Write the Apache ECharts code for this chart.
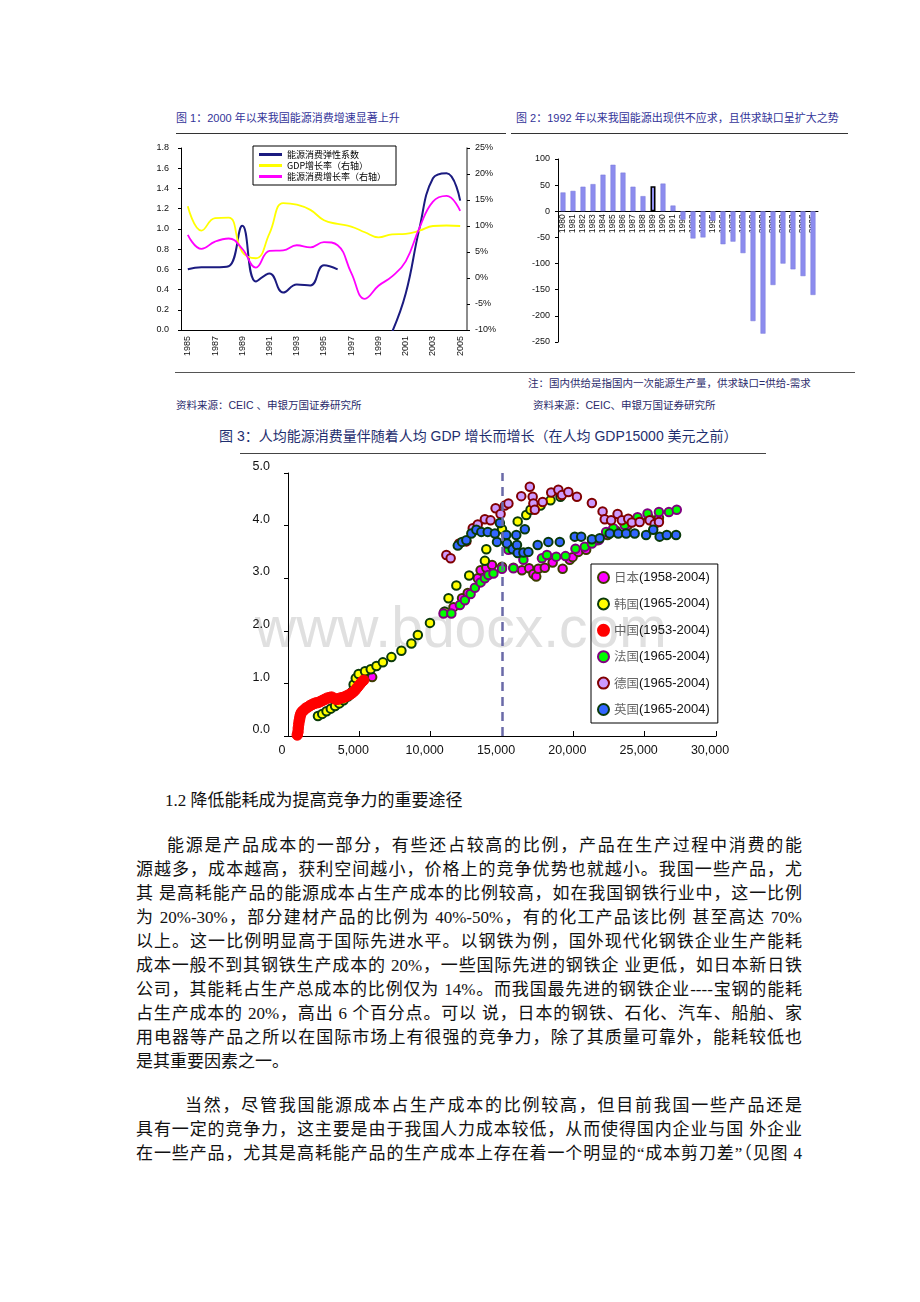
<!DOCTYPE html>
<html><head><meta charset="utf-8">
<script src="https://cdn.jsdelivr.net/npm/echarts/dist/echarts.min.js"></script>
<style>
html,body{margin:0;padding:0;background:#fff;}
body{width:920px;height:1302px;position:relative;overflow:hidden;}
.t{position:absolute;white-space:nowrap;font-family:"Liberation Sans","Noto Sans CJK SC",sans-serif;}
.cap{font-size:11px;line-height:14px;height:14px;color:#333399;}
.src{font-size:10.5px;line-height:14px;height:14px;color:#2b2b6b;}
.rule{position:absolute;height:1px;background:#333;}
.p{position:absolute;left:136px;width:666px;font-family:"Liberation Serif","Noto Sans CJK SC",serif;font-size:17px;line-height:24px;height:24px;color:#111;text-align:justify;text-align-last:justify;white-space:nowrap;}
.p.last{text-align-last:left;}
.ch{position:absolute;}
</style>
</head><body>

<div class="t cap" style="left:176px;top:111px;">图 1：2000 年以来我国能源消费增速显著上升</div>
<div class="t cap" style="left:516px;top:111px;">图 2：1992 年以来我国能源出现供不应求，且供求缺口呈扩大之势</div>
<div class="rule" style="left:176px;top:133px;width:330px;"></div>
<div class="rule" style="left:511px;top:133px;width:337px;"></div>

<div id="c1" class="ch" style="left:140px;top:140px;width:370px;height:232px;"></div>
<div id="c2" class="ch" style="left:510px;top:140px;width:360px;height:225px;"></div>

<div class="rule" style="left:175px;top:372px;width:680px;background:#555;"></div>
<div class="t src" style="left:528px;top:376px;">注：国内供给是指国内一次能源生产量，供求缺口=供给-需求</div>
<div class="t src" style="left:176px;top:398px;">资料来源：CEIC 、申银万国证券研究所</div>
<div class="t src" style="left:533px;top:398px;">资料来源：CEIC、申银万国证券研究所</div>

<div class="t" style="left:219px;top:427px;font-size:14px;line-height:18px;color:#1f2f6f;">图 3：人均能源消费量伴随着人均 GDP 增长而增长（在人均 GDP15000 美元之前）</div>
<div class="rule" style="left:240px;top:453px;width:526px;background:#444;"></div>

<div id="c3" class="ch" style="left:230px;top:455px;width:560px;height:320px;"></div>

<div class="t" style="left:165px;top:789px;font-family:'Liberation Serif','Noto Sans CJK SC',serif;font-size:17px;line-height:24px;color:#111;">1.2 降低能耗成为提高竞争力的重要途径</div>

<div class="p" style="left:167px;width:635px;top:834px;">能源是产品成本的一部分，有些还占较高的比例，产品在生产过程中消费的能</div>
<div class="p" style="top:858px;">源越多，成本越高，获利空间越小，价格上的竞争优势也就越小。我国一些产品，尤</div>
<div class="p" style="top:882px;">其 是高耗能产品的能源成本占生产成本的比例较高，如在我国钢铁行业中，这一比例</div>
<div class="p" style="top:906px;">为 20%-30%，部分建材产品的比例为 40%-50%，有的化工产品该比例 甚至高达 70%</div>
<div class="p" style="top:930px;">以上。这一比例明显高于国际先进水平。以钢铁为例，国外现代化钢铁企业生产能耗</div>
<div class="p" style="top:954px;">成本一般不到其钢铁生产成本的 20%，一些国际先进的钢铁企 业更低，如日本新日铁</div>
<div class="p" style="top:978px;">公司，其能耗占生产总成本的比例仅为 14%。而我国最先进的钢铁企业----宝钢的能耗</div>
<div class="p" style="top:1002px;">占生产成本的 20%，高出 6 个百分点。可以 说，日本的钢铁、石化、汽车、船舶、家</div>
<div class="p" style="top:1026px;">用电器等产品之所以在国际市场上有很强的竞争力，除了其质量可靠外，能耗较低也</div>
<div class="p last" style="top:1050px;">是其重要因素之一。</div>
<div class="p" style="left:185px;width:617px;top:1094px;">当然，尽管我国能源成本占生产成本的比例较高，但目前我国一些产品还是</div>
<div class="p" style="top:1118px;">具有一定的竞争力，这主要是由于我国人力成本较低，从而使得国内企业与国 外企业</div>
<div class="p" style="top:1142px;">在一些产品，尤其是高耗能产品的生产成本上存在着一个明显的“成本剪刀差”（见图 4</div>

<script>
// ---------- Figure 1 data ----------
const years1 = ['1985','1986','1987','1988','1989','1990','1991','1992','1993','1994','1995','1996','1997','1998','1999','2000','2001','2002','2003','2004','2005'];
const elasticity   = [0.60,0.62,0.62,0.63,1.03,0.48,0.56,0.37,0.45,0.44,0.64,0.60,null,null,null,-0.02,0.36,1.00,1.50,1.55,1.28];
const gdpGrowth    = [13.8,9.1,11.5,11.6,5.0,3.8,8.6,14.4,14.1,13.1,11.1,10.4,9.9,8.8,7.8,8.4,8.5,9.1,10.0,10.1,10.0];
const energyGrowth = [8.3,5.6,7.0,7.6,5.6,2.0,5.2,5.3,6.3,5.9,6.9,6.3,1.0,-4.0,-1.5,0.3,3.2,9.6,14.7,15.8,12.9];
const names1 = ['能源消费弹性系数','GDP增长率（右轴）','能源消费增长率（右轴）'];

// ---------- Figure 2 data ----------
const years2 = ['1980','1981','1982','1983','1984','1985','1986','1987','1988','1989','1990','1991','1992','1993','1994','1995','1996','1997','1998','1999','2000','2001','2002','2003','2004','2005'];
const supplyGap = [36,39,47,52,70,89,74,47,29,48,53,11,-16,-52,-50,-18,-63,-58,-80,-210,-234,-141,-100,-111,-124,-160];
const highlightYear = '1989';
const gapAxis = {min:-250, max:100, interval:50};

// ---------- Figure 3 data ([GDP per capita, energy per capita]) ----------
const countryNames = ['日本','韩国','中国','法国','德国','英国'];
const countryPeriods = ['(1958-2004)','(1965-2004)','(1953-2004)','(1965-2004)','(1965-2004)','(1965-2004)'];
const japan = [[5900,1.12],[10950,2.36],[11600,2.45],[12200,2.62],[12600,2.72],[13300,3.0],[13500,3.15],[13900,3.2],[14300,3.25],[15000,3.22],[15800,3.2],[16400,3.15],[16900,3.19],[17200,3.08],[17400,3.03],[17550,3.18],[18000,3.2],[18550,3.3],[19250,3.18],[19750,3.35],[19950,3.4],[20350,3.5],[20900,3.54],[21700,3.72],[22400,3.82],[23000,3.9],[23800,4.0],[24600,4.1],[25300,4.15],[26000,4.15]];
const korea = [[2100,0.38],[2400,0.42],[2700,0.47],[3000,0.52],[3300,0.57],[3600,0.62],[3900,0.68],[4200,0.75],[4500,0.84],[4600,0.98],[4750,1.1],[4950,1.18],[5400,1.23],[5800,1.27],[6200,1.33],[6650,1.4],[7250,1.5],[7950,1.62],[8650,1.76],[9100,1.92],[9950,2.15],[11000,2.36],[11250,2.62],[11800,2.86],[12700,3.05],[13800,3.33],[13900,3.55],[15000,3.93],[16100,4.08],[16700,4.2],[17000,4.3],[17700,4.38],[18400,4.48],[19100,4.55]];
const china = [[650,0.02],[700,0.08],[720,0.15],[750,0.22],[780,0.28],[820,0.33],[850,0.38],[900,0.42],[950,0.45],[1050,0.48],[1150,0.5],[1250,0.53],[1400,0.55],[1550,0.58],[1700,0.6],[1850,0.62],[2000,0.63],[2150,0.64],[2300,0.66],[2450,0.68],[2600,0.7],[2750,0.72],[2900,0.73],[3050,0.74],[3200,0.72],[3350,0.7],[3500,0.7],[3650,0.72],[3800,0.73],[3950,0.74],[4100,0.76],[4250,0.78],[4400,0.8],[4550,0.83],[4700,0.87],[4850,0.92],[5000,0.97],[5150,1.02],[5300,1.06]];
const france = [[10900,2.33],[11450,2.33],[12050,2.49],[12400,2.58],[12800,2.7],[13100,2.82],[13500,2.92],[13800,3.0],[14050,3.06],[14400,3.09],[15000,3.18],[15800,3.19],[15450,3.54],[16350,3.47],[16500,3.35],[17800,3.38],[18150,3.44],[18800,3.41],[19450,3.42],[20150,3.56],[20800,3.6],[21300,3.66],[21800,3.73],[22300,3.88],[22800,3.95],[23600,4.01],[24500,4.16],[25200,4.23],[26000,4.26],[26700,4.26],[27250,4.3]];
const germany = [[11100,3.44],[11400,3.38],[12000,3.66],[12500,3.7],[12950,3.95],[13300,4.02],[13800,4.12],[14200,4.1],[14550,4.33],[14900,4.22],[15200,4.38],[15450,4.42],[16350,4.56],[16950,4.74],[17150,4.55],[17200,4.42],[17300,4.3],[17850,4.45],[18450,4.63],[18950,4.68],[19200,4.58],[19650,4.64],[20250,4.55],[21300,4.43],[22050,4.27],[22200,4.12],[22650,4.1],[23100,4.22],[23400,4.1],[23850,4.13],[24100,4.06],[24650,4.07],[25350,4.1],[25700,4.03],[26000,4.07]];
const uk = [[11900,3.62],[12200,3.69],[12500,3.72],[12850,3.85],[13200,3.92],[13550,3.88],[14000,3.88],[14500,3.85],[14650,3.69],[14850,4.05],[15300,3.82],[15350,3.66],[15750,3.55],[16000,3.82],[16050,3.63],[16100,3.48],[16500,3.49],[16600,3.93],[16850,3.5],[17500,3.63],[18250,3.69],[19050,3.69],[20100,3.79],[20550,3.79],[21300,3.74],[21850,3.76],[22550,3.85],[23150,3.85],[23700,3.85],[24300,3.85],[25100,3.82],[25600,3.92],[26050,3.79],[26550,3.82],[27200,3.82]];
const gdpThreshold = [15000];

const SANS = '"Liberation Sans","Noto Sans CJK SC",sans-serif';
const CJK = '"Noto Sans CJK SC",sans-serif';

// ---------- Chart 1 ----------
const c1 = echarts.init(document.getElementById('c1'), null, {renderer:'canvas'});
const lineColors = ['#1b1b80','#ffff00','#ff00ff'];
c1.setOption({
  animation:false,
  grid:{left:41, top:8, width:286, height:182},
  legend:{data:names1, orient:'vertical', left:113, top:6, icon:'rect', itemWidth:23, itemHeight:3, itemGap:2,
    padding:[4,10,4,6], borderColor:'#000', borderWidth:1, backgroundColor:'#fff',
    textStyle:{fontSize:9, color:'#000', fontFamily:CJK}},
  xAxis:{type:'category', data:years1, boundaryGap:true,
    axisLine:{lineStyle:{color:'#000', width:1}},
    axisTick:{interval:1, inside:true, length:3, lineStyle:{color:'#000'}},
    axisLabel:{interval:1, rotate:90, fontSize:9, margin:6, color:'#111', fontFamily:SANS}},
  yAxis:[
    {type:'value', min:0, max:1.8, interval:0.2, splitLine:{show:false},
      axisLine:{show:true, lineStyle:{color:'#000'}}, axisTick:{show:true, length:3, lineStyle:{color:'#000'}},
      axisLabel:{formatter:v=>v.toFixed(1), fontSize:9, margin:12, color:'#111', fontFamily:SANS}},
    {type:'value', position:'right', min:-10, max:25, interval:5, splitLine:{show:false},
      axisLine:{show:true, lineStyle:{color:'#666', width:1.5}}, axisTick:{show:true, length:3, lineStyle:{color:'#000'}},
      axisLabel:{formatter:v=>v+'%', fontSize:9, margin:8, color:'#111', fontFamily:SANS}}
  ],
  series:[
    {name:names1[0], type:'line', data:elasticity, smooth:0.45, symbol:'none', connectNulls:false,
      lineStyle:{color:lineColors[0], width:2}, itemStyle:{color:lineColors[0]}},
    {name:names1[1], type:'line', yAxisIndex:1, data:gdpGrowth, smooth:0.45, symbol:'none',
      lineStyle:{color:lineColors[1], width:1.8}, itemStyle:{color:lineColors[1]}},
    {name:names1[2], type:'line', yAxisIndex:1, data:energyGrowth, smooth:0.45, symbol:'none',
      lineStyle:{color:lineColors[2], width:1.8}, itemStyle:{color:lineColors[2]}}
  ]
});

// ---------- Chart 2 ----------
const c2 = echarts.init(document.getElementById('c2'), null, {renderer:'canvas'});
const grid2H = 183;
const zeroOffset = -grid2H * (0 - gapAxis.min) / (gapAxis.max - gapAxis.min);
c2.setOption({
  animation:false,
  grid:{left:48, top:19, width:260, height:grid2H},
  xAxis:{type:'category', data:years2, offset:zeroOffset,
    axisLine:{onZero:false, lineStyle:{color:'#000'}},
    axisTick:{length:3, lineStyle:{color:'#000'}},
    axisLabel:{interval:0, rotate:90, fontSize:8.5, margin:3, color:'#111', fontFamily:SANS}},
  yAxis:{type:'value', min:gapAxis.min, max:gapAxis.max, interval:gapAxis.interval, splitLine:{show:false},
    axisLine:{show:true, lineStyle:{color:'#000'}}, axisTick:{show:true, length:3, lineStyle:{color:'#000'}},
    axisLabel:{fontSize:9, margin:8, color:'#111', fontFamily:SANS}},
  series:[{type:'bar', barWidth:5, z:1,
    data:supplyGap.map((v,i)=>({value:v, itemStyle: years2[i]===highlightYear ? {color:'#9090f0', borderColor:'#000', borderWidth:1.5} : {}})),
    itemStyle:{color:'#8c8cee', borderColor:'#7a7ad8', borderWidth:0.5}}]
});

// ---------- Chart 3 ----------
const c3 = echarts.init(document.getElementById('c3'), null, {renderer:'canvas'});
const styles3 = [
  {color:'#ff00ff', borderColor:'#3d3d00', size:8.5, bw:2},
  {color:'#ffff00', borderColor:'#0a3a0a', size:8.5, bw:2},
  {color:'#ff0000', borderColor:'#ff0000', size:10.5, bw:1},
  {color:'#00ff00', borderColor:'#800080', size:8.5, bw:2},
  {color:'#cc99ff', borderColor:'#800000', size:8.5, bw:2},
  {color:'#3366ff', borderColor:'#0a3a0a', size:8.5, bw:2}
];
const data3 = [japan, korea, china, france, germany, uk];
c3.setOption({
  animation:false,
  grid:{left:58, top:18, width:428, height:263},
  graphic:[{type:'text', x:25, y:176, z:0, silent:true,
    style:{text:'www.bdocx.com', fontSize:57, fontFamily:SANS, fill:'#e0e0e0', verticalAlign:'middle', align:'left'}}],
  legend:{data:countryNames, orient:'vertical', left:361, top:109, icon:'circle', itemWidth:11, itemHeight:11, itemGap:13.4,
    padding:[7,8,7,6], borderColor:'#000', borderWidth:1, backgroundColor:'rgba(0,0,0,0)',
    formatter:n=>'{c|'+n+'}{d|'+countryPeriods[countryNames.indexOf(n)]+'}',
    textStyle:{rich:{c:{fontFamily:CJK, fontSize:12.5, color:'#666'}, d:{fontFamily:SANS, fontSize:13, color:'#111'}}}},
  xAxis:{type:'value', min:0, max:30000, interval:5000, splitLine:{show:false},
    axisLine:{lineStyle:{color:'#000'}}, axisTick:{inside:true, length:5, lineStyle:{color:'#000'}},
    axisLabel:{formatter:v=>v.toLocaleString('en-US'), fontSize:12.5, margin:8, color:'#111', fontFamily:SANS, padding:[0,12,0,0]}},
  yAxis:{type:'value', min:0, max:5, interval:1, splitLine:{show:false},
    axisLine:{show:true, lineStyle:{color:'#000'}}, axisTick:{show:true, length:4, lineStyle:{color:'#000'}},
    axisLabel:{formatter:v=>v.toFixed(1), fontSize:12.5, margin:18, color:'#111', fontFamily:SANS, verticalAlign:'bottom'}},
  series:data3.map((d,i)=>{
    const s = {name:countryNames[i], type:'scatter', data:d, symbol:'circle', symbolSize:styles3[i].size,
      itemStyle:{color:styles3[i].color, borderColor:styles3[i].borderColor, borderWidth:styles3[i].bw, opacity:1}};
    if(i===0){
      s.markLine = {silent:true, symbol:'none', label:{show:false},
        lineStyle:{color:'#6a6aa8', type:[9,6], width:2.5},
        data:gdpThreshold.map(v=>({xAxis:v}))};
    }
    return s;
  })
});
</script>
</body></html>
